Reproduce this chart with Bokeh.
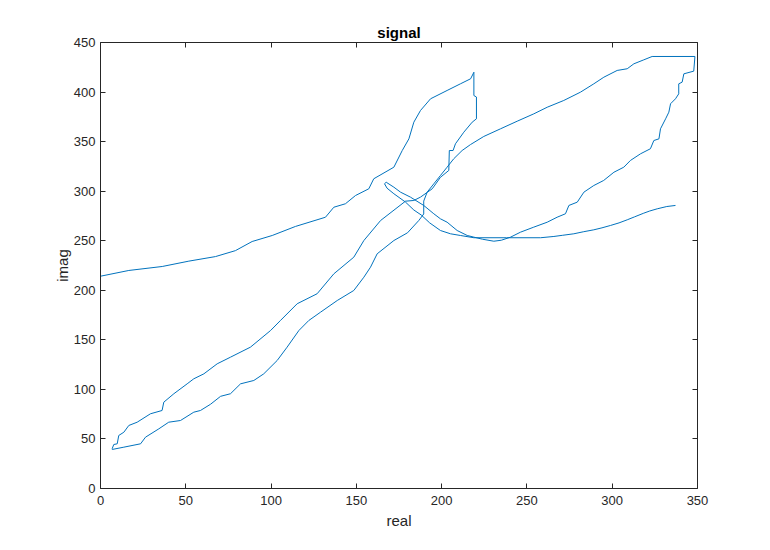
from bokeh.plotting import figure
from bokeh.models import Range1d, LinearAxis, FixedTicker, CustomJSTickFormatter
from bokeh.embed import file_html
from bokeh.resources import INLINE

# ---- data (path of the complex signal) ----
# end strand (free end) -> flat part
seg_end_re = [337.1, 332, 326.4, 322, 318.5, 313, 308.8, 304, 299, 294, 289.2, 283, 277.5, 271, 265.8, 258, 238, 218.9]
seg_end_im = [285.6, 284.5, 282.2, 280, 277.8, 274, 271.1, 268, 265.4, 263, 261, 259, 257, 255.5, 254.3, 253, 253, 253]
# lower line up to the small tip
seg_t2_re = [211, 205.2, 199.3, 193, 188, 183.7, 178.8, 172, 168, 166.5]
seg_t2_im = [255.3, 257, 260.3, 268, 276, 281, 289, 297.4, 303, 307.5]
# upper line from the tip down to the dip
seg_t1_re = [167.5, 172, 175.9, 181.7, 189.5, 195.4, 199.3, 203.2, 209.1, 215, 218.9, 224, 230.6, 235, 240.4]
seg_t1_im = [309, 304, 299, 294, 285.6, 277.2, 272.1, 268.7, 260.3, 255.3, 253.6, 251.5, 249.5, 250.5, 253.6]
# right strand rising to the top right corner
seg_r_re = [246.2, 254, 261.9, 267.7, 272.6, 274.6, 279.5, 283.4, 289.2, 295, 301, 306.8, 310.7, 316.6, 322.4,
            324.4, 327.4, 328.3, 331.3, 333.2, 334.2, 337.1, 339, 339, 341, 342, 347.8, 348.5]
seg_r_im = [258.6, 263.7, 268.7, 273.7, 277.2, 285.6, 288.9, 299, 305.7, 310.8, 319.1, 324.2, 331, 337.7, 342.8,
            351.1, 352.8, 362.9, 373, 379.7, 388.2, 393.2, 398.2, 408.3, 410, 418.4, 421.1, 435.9]
# top, then upper-right strand down through the crossing and the lower-right strand
seg_u_re = [323.4, 318.5, 312.7, 308.8, 302.9, 295.1, 289.2, 281.4, 271.6, 261.9, 254, 244.3, 234.5, 224.7, 216.9,
            212, 207.1, 203.2, 199.3, 195.4, 191.5, 189.5, 189.5, 186.6, 180, 172, 162.2, 158.3, 154.4, 148.5,
            138.8, 129, 122.1, 116.3, 109.4, 103.6, 95.7, 89.9, 82.1, 76.2, 70.4, 64.5, 58.6, 54.7, 46.9, 40,
            34.2, 26.4, 23.5, 13.7, 6.9]
seg_u_im = [435.9, 432.5, 428.5, 423.5, 421.8, 415, 408.3, 399.9, 391.5, 384.7, 378, 370.6, 362.9, 355.2, 347,
            341, 332.7, 324.2, 315.8, 307.4, 299, 290, 277, 270.4, 258, 250.2, 236.8, 223.3, 213.2, 199.8,
            189.7, 177.9, 169.5, 159.4, 142.6, 129.2, 115.7, 109, 105.6, 95.6, 93, 85, 78.7, 77, 68.6, 66.9,
            60.2, 51.8, 45.1, 41.7, 39.4]
# lower-left strand back up, then the strand up to the top spike
seg_b_re = [6.9, 7.8, 9.8, 10.7, 13.7, 16.6, 21.5, 29.3, 36.1, 37.1, 43, 50.8, 54.7, 60.6, 68.4, 76.2, 87.9,
            99.7, 105.5, 115.3, 127, 136.8, 148.5, 154.4, 164.2, 178.8, 183.7, 187.6, 194.5, 199.3, 204.2,
            204.5, 206.7, 208.1, 213, 217.9, 220.4, 220.4, 218.9, 218.9]
seg_b_im = [40.5, 44.4, 45.1, 53.5, 56.8, 63.6, 66.9, 75.4, 78.7, 87.1, 95.6, 105.6, 110.7, 115.7, 125.8, 132.5,
            142.6, 159.4, 169.5, 186.4, 196.5, 216.6, 233.4, 250.2, 270.4, 289.9, 290.6, 294, 302.4, 314, 320.9,
            341, 341, 347.8, 359.5, 369.6, 373, 395, 396.5, 420]
# upper-left strand down to the left edge
seg_l_re = [217, 211, 203.2, 193.5, 187.6, 183.7, 180.8, 176.9, 172, 160.2, 157.3, 149.5, 143.6, 136.8, 131.9,
            114.3, 100.7, 88.9, 79.1, 67.4, 51.8, 36.2, 16.6, 0]
seg_l_im = [413.4, 408.3, 401.6, 393.2, 381.4, 369.6, 352.8, 341, 324.2, 312.5, 302.4, 295.6, 287.3, 283.8, 273.7,
            264.4, 255.3, 249.2, 240, 234, 229.4, 224, 220, 214.2]

real = seg_end_re + seg_t2_re + seg_t1_re + seg_r_re + seg_u_re + seg_b_re + seg_l_re
imag = seg_end_im + seg_t2_im + seg_t1_im + seg_r_im + seg_u_im + seg_b_im + seg_l_im

x_ticks = [0, 50, 100, 150, 200, 250, 300, 350]
y_ticks = [0, 50, 100, 150, 200, 250, 300, 350, 400, 450]

FONT = "Liberation Sans"
AX = "#262626"

p = figure(width=754, height=534, output_backend="svg", toolbar_location=None,
           x_range=Range1d(0, 350), y_range=Range1d(0, 450),
           x_axis_label="real", y_axis_label="imag", title="signal",
           min_border_left=100, min_border_right=57, min_border_top=42, min_border_bottom=46)

p.line(real, imag, line_color="#0072BD", line_width=1)

p.grid.visible = False
p.outline_line_color = None
p.background_fill_color = "white"
p.border_fill_color = "white"

p.title.text_font = FONT
p.title.text_font_size = "15px"
p.title.text_font_style = "bold"
p.title.text_color = "#000000"
p.title.align = "center"
p.title.standoff = 4

blank = CustomJSTickFormatter(code="return '';")
top = LinearAxis(formatter=blank)
right = LinearAxis(formatter=blank)
p.add_layout(top, "above")
p.add_layout(right, "right")

for ax in p.xaxis:
    ax.ticker = FixedTicker(ticks=x_ticks)
for ax in p.yaxis:
    ax.ticker = FixedTicker(ticks=y_ticks)

for ax in p.axis:
    ax.axis_line_color = AX
    ax.axis_line_width = 1
    ax.major_tick_line_color = AX
    ax.major_tick_in = 5
    ax.major_tick_out = 0
    ax.minor_tick_line_color = None
    ax.major_label_text_font = FONT
    ax.major_label_text_font_size = "13px"
    ax.major_label_text_color = AX
    ax.axis_label_text_font = FONT
    ax.axis_label_text_font_size = "15px"
    ax.axis_label_text_font_style = "normal"
    ax.axis_label_text_color = AX

for ax in (top, right):
    ax.major_label_standoff = 0

p.below[0].major_label_standoff = 7
p.below[0].axis_label_standoff = 4
p.left[0].major_label_standoff = 5
p.left[0].axis_label_standoff = 0

open("out.html", "w").write(file_html(p, INLINE))
